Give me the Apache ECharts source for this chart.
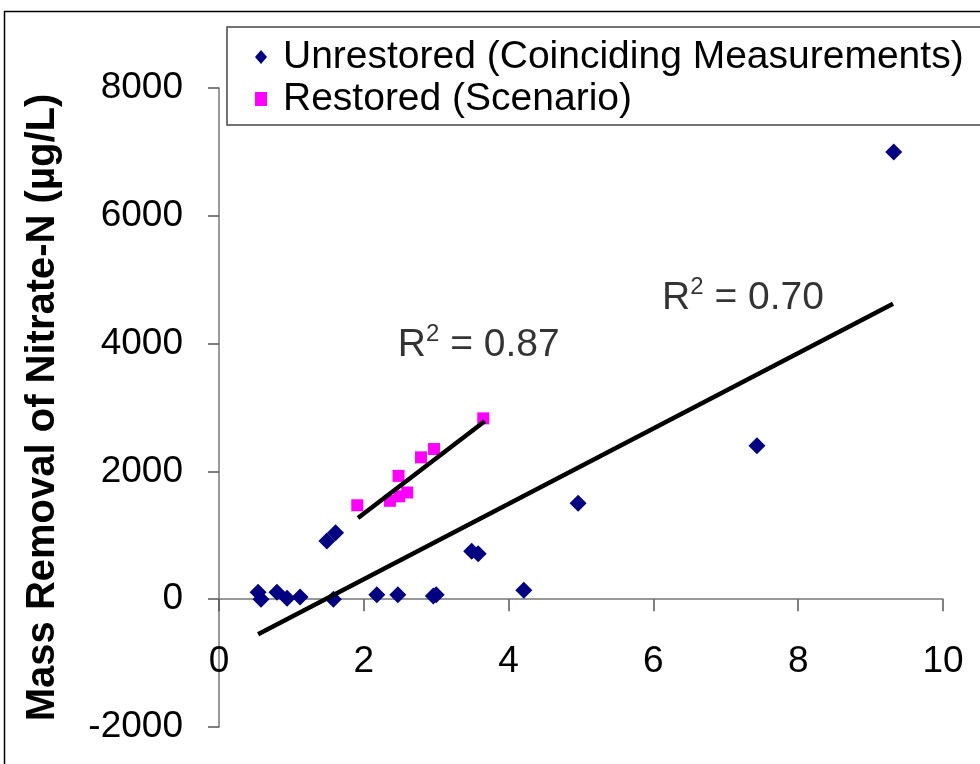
<!DOCTYPE html>
<html lang="en">
  <head>
    <meta charset="utf-8" />
    <title>Mass removal of nitrate-N</title>
    <script src="https://cdn.jsdelivr.net/npm/echarts@6/dist/echarts.min.js"></script>
    <style>
      html, body { margin: 0; padding: 0; background: #fff; }
      #chart { width: 980px; height: 764px; }
    </style>
  </head>
  <body>
    <div id="chart"></div>
    <script>
      // values
      var unrestoredX = [0.54, 0.58, 0.80, 0.94, 1.12, 1.49, 1.61, 1.58, 2.18, 2.47, 2.96, 3.00, 3.49, 3.58, 4.21, 4.96, 7.43, 9.32]
      var unrestoredY = [110, 0, 110, 15, 35, 910, 1040, 0, 70, 70, 50, 70, 750, 710, 140, 1500, 2400, 7000]
      var restoredX = [1.91, 2.36, 2.49, 2.60, 2.48, 2.79, 2.97, 3.65]
      var restoredY = [1470, 1540, 1610, 1670, 1930, 2220, 2350, 2830]
      // trendline end points
      var unrestoredFitX = [0.54, 9.31]
      var unrestoredFitY = [-547, 4625]
      var restoredFitX = [1.92, 3.67]
      var restoredFitY = [1271, 2786]
      // R squared labels, anchored in data units
      var r2Text = ['0.87', '0.70']
      var r2X = [2.47, 6.12]
      var r2Y = [4000, 4734]
      var xTicks = { min: 0, max: 10, interval: 2 }
      var yTicks = { min: -2000, max: 8000, interval: 2000 }

      var seriesNames = ['Unrestored (Coinciding Measurements)', 'Restored (Scenario)']

      function pairs (xs, ys) {
        return xs.map(function (x, i) { return [x, ys[i]] })
      }

      var font = '"Liberation Sans", Arial, sans-serif'
      var chart = echarts.init(document.getElementById('chart'))

      // grid: top 88, bottom 727, so y = 0 sits 128px above the bottom
      var gridTop = 88
      var gridBottom = 37
      var zeroOffset = (0 - yTicks.min) / (yTicks.max - yTicks.min) * (764 - gridTop - gridBottom)

      chart.setOption({
        animation: false,
        backgroundColor: '#fff',
        textStyle: { fontFamily: font },
        graphic: [{
          type: 'rect',
          shape: { x: 4.5, y: 11.5, width: 1000, height: 800 },
          style: { fill: 'none', stroke: '#000', lineWidth: 1.5 },
          z: 0
        }],
        grid: { left: 219, right: 37, top: gridTop, bottom: gridBottom, containLabel: false, outerBoundsMode: 'none' },
        legend: {
          orient: 'vertical',
          left: 227,
          top: 27,
          padding: [10, 60, 6, 28],
          itemGap: 2,
          itemWidth: 12,
          itemHeight: 14,
          borderColor: '#444',
          borderWidth: 1.5,
          backgroundColor: '#fff',
          textStyle: { fontSize: 39, lineHeight: 40, color: '#000', fontFamily: font, padding: [0, 0, 0, 11] },
          data: [
            { name: seriesNames[0], icon: 'diamond' },
            { name: seriesNames[1], icon: 'rect' }
          ]
        },
        xAxis: {
          type: 'value',
          min: xTicks.min,
          max: xTicks.max,
          interval: xTicks.interval,
          offset: -zeroOffset,
          splitLine: { show: false },
          axisLine: { onZero: false, lineStyle: { color: '#777', width: 1.5 } },
          axisTick: { length: 12, lineStyle: { color: '#555', width: 1.5 } },
          axisLabel: { fontSize: 37, color: '#000', margin: 44, fontFamily: font, formatter: function (v) { return String(v) } }
        },
        yAxis: {
          type: 'value',
          min: yTicks.min,
          max: yTicks.max,
          interval: yTicks.interval,
          splitLine: { show: false },
          axisLine: { show: true, onZero: false, lineStyle: { color: '#777', width: 1.5 } },
          axisTick: { show: true, length: 11, lineStyle: { color: '#555', width: 1.5 } },
          axisLabel: { fontSize: 37, color: '#000', margin: 36, fontFamily: font, formatter: function (v) { return String(v) } },
          name: 'Mass Removal of Nitrate-N (µg/L)',
          nameLocation: 'middle',
          nameRotate: 90,
          nameGap: 156,
          nameTextStyle: { fontSize: 40, fontWeight: 'bold', color: '#000', fontFamily: font }
        },
        series: [
          {
            name: seriesNames[0],
            type: 'scatter',
            symbol: 'diamond',
            symbolSize: 17,
            itemStyle: { color: '#000080', opacity: 1 },
            data: pairs(unrestoredX, unrestoredY),
            z: 3
          },
          {
            name: seriesNames[1],
            type: 'scatter',
            symbol: 'rect',
            symbolSize: 12,
            itemStyle: { color: '#ff00ff', opacity: 1 },
            data: pairs(restoredX, restoredY),
            z: 3
          },
          {
            name: 'fit-unrestored',
            type: 'line',
            symbol: 'none',
            silent: true,
            lineStyle: { color: '#000', width: 4.5 },
            data: pairs(unrestoredFitX, unrestoredFitY),
            z: 4
          },
          {
            name: 'fit-restored',
            type: 'line',
            symbol: 'none',
            silent: true,
            lineStyle: { color: '#000', width: 4.5 },
            data: pairs(restoredFitX, restoredFitY),
            z: 4
          },
          {
            name: 'r2',
            type: 'scatter',
            symbolSize: 0,
            silent: true,
            data: pairs(r2X, r2Y),
            label: {
              show: true,
              position: 'right',
              distance: 0,
              formatter: function (p) {
                return '{a|R}{s|2}{a| = ' + r2Text[p.dataIndex] + '}'
              },
              rich: {
                a: { fontSize: 39, color: '#000', fontFamily: font, verticalAlign: 'bottom', lineHeight: 42 },
                s: { fontSize: 24, color: '#000', fontFamily: font, verticalAlign: 'top', lineHeight: 42 }
              }
            }
          }
        ]
      })
    </script>
  </body>
</html>
